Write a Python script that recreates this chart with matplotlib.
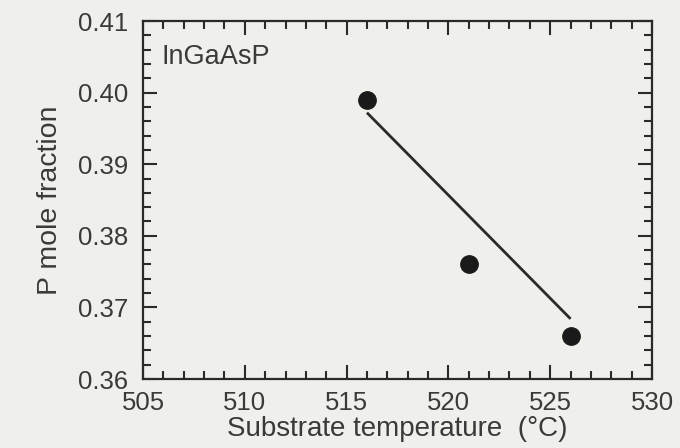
import matplotlib
matplotlib.use("Agg")
import matplotlib.pyplot as plt
from matplotlib.ticker import MultipleLocator

# Measured P mole fraction vs. substrate temperature
temperature = [516, 521, 526]
p_fraction = [0.399, 0.376, 0.366]

# Guide line drawn through the data
line_temperature = [516, 526]
line_fraction = [0.3972, 0.3684]

bg = "#efefeb"
ink = "#2a2a2a"
text_ink = "#3a3a3a"

plt.rcParams["font.family"] = ["Liberation Sans", "DejaVu Sans"]

fig = plt.figure(figsize=(6.8, 4.48), dpi=100, facecolor=bg)
ax = fig.add_axes([143 / 680, 1 - 379 / 448, (652 - 143) / 680, (379 - 21) / 448])
ax.set_facecolor(bg)

ax.plot(line_temperature, line_fraction, color=ink, lw=2.0, solid_capstyle="butt")
ax.plot(temperature, p_fraction, "o", color="#1a1a1a", ms=12.5)

ax.set_xlim(505, 530)
ax.set_ylim(0.36, 0.41)
ax.xaxis.set_major_locator(MultipleLocator(5))
ax.xaxis.set_minor_locator(MultipleLocator(1))
ax.yaxis.set_major_locator(MultipleLocator(0.01))
ax.yaxis.set_minor_locator(MultipleLocator(0.002))
ax.yaxis.set_major_formatter(plt.FuncFormatter(lambda v, _: f"{v:.2f}"))

ax.tick_params(which="both", direction="in", top=True, right=True,
               color=ink, width=1.5, labelsize=18.5, labelcolor=text_ink)
ax.tick_params(which="major", length=10)
ax.tick_params(which="minor", length=6)
ax.tick_params(axis="y", which="major", pad=10.5)
ax.tick_params(axis="x", which="major", pad=8.5)
for s in ax.spines.values():
    s.set_color(ink)
    s.set_linewidth(1.6)

ax.set_xlabel("Substrate temperature  (\u00b0C)", fontsize=20, color=text_ink, labelpad=0.5)
ax.set_ylabel("P mole fraction", fontsize=20.5, color=text_ink, labelpad=11)

ax.text(0.036, 0.935, "InGaAsP", transform=ax.transAxes, fontsize=19.5,
        color=text_ink, va="top", ha="left")

fig.savefig("out.png", dpi=100, facecolor=bg)
